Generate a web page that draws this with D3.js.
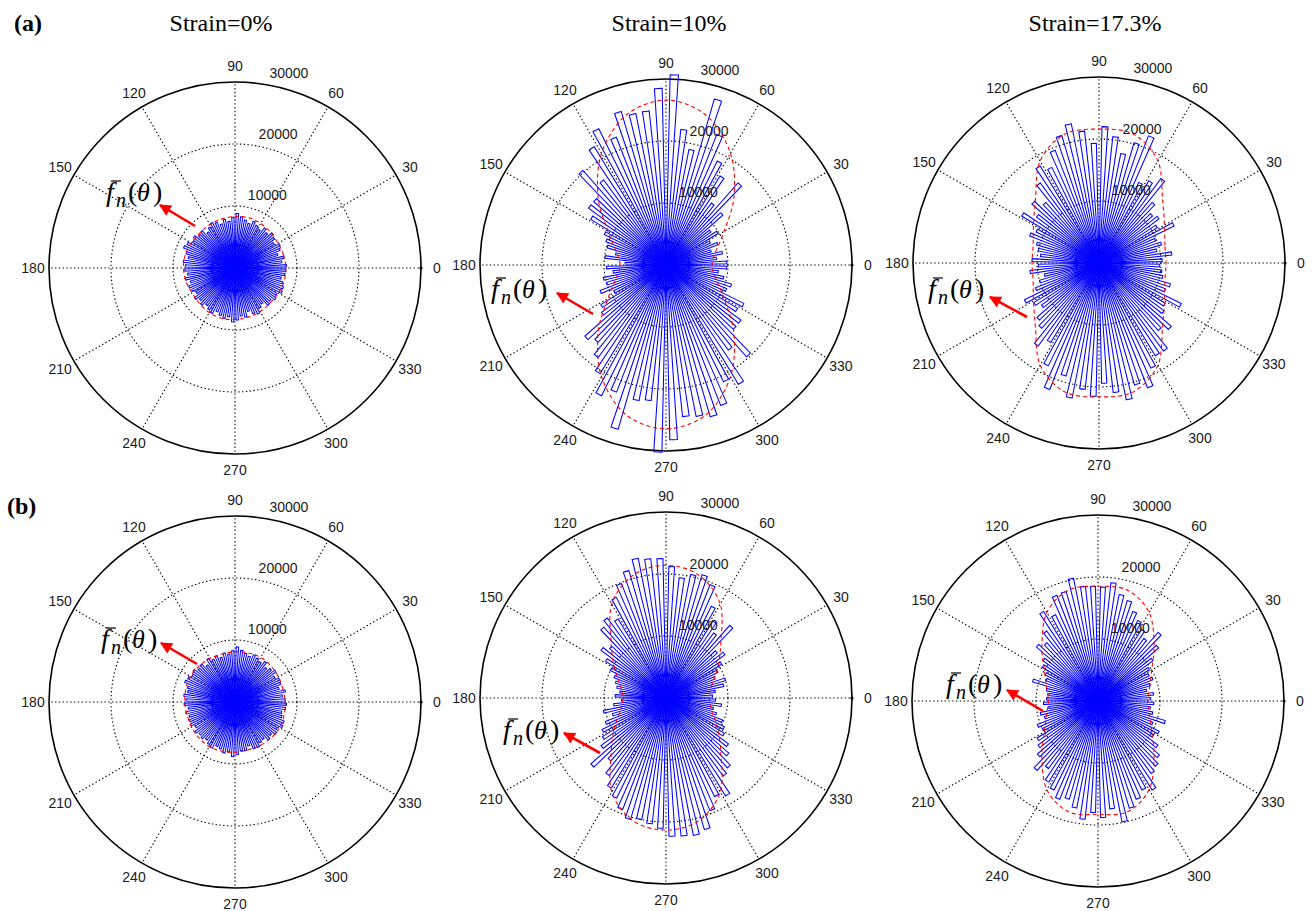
<!DOCTYPE html>
<html>
<head>
<meta charset="utf-8">
<script src="https://d3js.org/d3.v7.min.js"></script>
<style>
  body { margin: 0; background: #fff; }
  .sans { font-family: "Liberation Sans", Arial, sans-serif; }
  .serif { font-family: "Liberation Serif", "Times New Roman", serif; }
</style>
</head>
<body>
<svg width="1313" height="911"></svg>
<script>
// bin centres of the rose (deg), 5 deg bins
const binAngles = d3.range(2.5, 360, 5);
// angles where the fitted curve f_n(theta) was read (deg)
const fitAngles = d3.range(0, 360, 15);

const ringTicks = [10000, 20000, 30000];
const spokeAngles = [0, 30, 60, 90, 120, 150, 180, 210, 240, 270, 300, 330];
const titles = ['Strain=0%', 'Strain=10%', 'Strain=17.3%'];
const rowLabels = ['(a)', '(b)'];

// ---- (a) contact counts per bin ----
const barsA0 = [
  8300, 7600, 8000, 7200, 7800, 8100, 7400, 7900, 8200,
  7600, 8000, 7300, 7700, 8100, 7500, 7900, 8300, 8800,
  8200, 7600, 8000, 7400, 7900, 8200, 7700, 7200, 8000,
  7800, 8300, 8000, 8600, 8900, 8200, 7700, 8400, 8000,
  8100, 7700, 8200, 7500, 8000, 7800, 7400, 8100, 7600,
  8000, 7500, 7900, 8200, 7600, 8000, 8300, 7900, 8700,
  8400, 7800, 8100, 7300, 7900, 8300, 7600, 7200, 8000,
  7700, 8200, 7900, 8500, 8400, 8000, 7600, 8100, 8200
];
const barsA10 = [
  9800, 8200, 9300, 7600, 9000, 8000, 9800, 9000, 12200,
  17600, 12400, 16800, 18700, 22600, 27900, 19000, 22000, 30700,
  28500, 25000, 24900, 25800, 22100, 24500, 22300, 17000, 20300,
  15500, 15500, 14200, 11100, 10400, 9900, 8300, 9900, 6600,
  9600, 8600, 10300, 10000, 11400, 9400, 12300, 12900, 17400,
  16600, 18500, 20500, 23500, 22000, 27600, 22300, 22000, 30200,
  28200, 24600, 24900, 25500, 24300, 21000, 22500, 17000, 19700,
  15000, 15000, 13500, 14000, 10500, 11000, 9500, 8500, 9800
];
const barsA17 = [
  10200, 11800, 9500, 10500, 9800, 13500, 11000, 12000, 11500,
  13000, 16900, 15500, 14500, 22000, 20200, 18000, 20500, 22000,
  19300, 21400, 22900, 21400, 19500, 17200, 18300, 16000, 13000,
  14400, 12500, 14600, 11300, 12000, 10500, 10000, 9500, 10800,
  9800, 11200, 9000, 10000, 11000, 13400, 12300, 11500, 13300,
  14000, 16600, 15000, 18500, 21900, 19000, 22200, 20500, 21500,
  19400, 21000, 22500, 20500, 21600, 18900, 17500, 17600, 14500,
  15500, 13000, 12500, 14800, 11500, 12000, 10500, 10200, 9800
];
// ---- (b) contact counts per bin ----
const barsB0 = [
  8100, 7700, 8300, 7400, 7900, 8000, 7500, 8200, 7800,
  7400, 8100, 7600, 7900, 8200, 7700, 8000, 8400, 8900,
  8300, 7800, 8100, 7500, 8000, 7700, 8200, 7400, 8100,
  7900, 8400, 8100, 8500, 8700, 8000, 7800, 8300, 7900,
  8200, 7600, 8100, 7700, 7900, 8000, 7500, 8000, 7700,
  7900, 7600, 8000, 8300, 7700, 7900, 8400, 8100, 8800,
  8500, 7900, 8000, 7400, 8100, 8200, 7700, 7500, 8100,
  7800, 8300, 8000, 8600, 8500, 7900, 7700, 8200, 8300
];
const barsB10 = [
  7500, 8000, 9500, 10000, 8500, 9300, 10500, 11800, 11000,
  15600, 13000, 14500, 16500, 19600, 20700, 20300, 19500, 21200,
  22500, 22600, 23000, 21400, 19800, 18100, 14900, 16000, 15200,
  12100, 13000, 11400, 10000, 9000, 8500, 8100, 7500, 8200,
  7200, 8500, 10300, 9000, 10500, 11500, 12000, 13000, 16100,
  13500, 15500, 17000, 18000, 19300, 20400, 20000, 20400, 21000,
  22300, 22400, 22600, 22100, 19500, 17700, 18500, 15600, 15000,
  13500, 12500, 11000, 10500, 9800, 8500, 7800, 9000, 8000
];
const barsB17 = [
  8500, 9000, 8000, 8800, 9500, 9200, 9700, 11000, 13000,
  14700, 12500, 13500, 14500, 15500, 16900, 17500, 19200, 18400,
  18500, 18600, 20200, 18400, 18300, 15500, 16900, 14000, 12500,
  13200, 11000, 10500, 9500, 9000, 11000, 8500, 8000, 8300,
  8800, 8000, 9500, 9000, 10500, 10000, 11500, 12000, 13000,
  14900, 13500, 15300, 16000, 17000, 16500, 17600, 19200, 18000,
  18800, 17500, 19900, 18000, 17000, 16000, 16800, 14500, 14000,
  13200, 12000, 10500, 11000, 9500, 11300, 9000, 8500, 9000
];

// ---- fitted distribution f_n(theta), read every 15 deg ----
const fitA0 = [8200, 8100, 8000, 8100, 8300, 8400, 8300, 8200, 8100, 8000, 8100, 8300,
               8300, 8200, 8000, 8100, 8300, 8400, 8300, 8200, 8100, 8000, 8100, 8200];
const fitA10 = [7400, 8300, 10800, 15500, 20800, 25000, 26600, 25000, 20800, 15500, 10800, 8300,
                7400, 8300, 10800, 15500, 20800, 25000, 26400, 25000, 20800, 15500, 10800, 8300];
const fitA17 = [10800, 11000, 12200, 14500, 19000, 21500, 21600, 21500, 19000, 14500, 12200, 11000,
                10800, 11000, 12200, 14500, 19000, 21500, 21600, 21500, 19000, 14500, 12200, 11000];
const fitB0 = [8100, 8000, 8100, 8200, 8300, 8200, 8100, 8000, 8100, 8200, 8300, 8200,
               8100, 8000, 8100, 8200, 8300, 8200, 8100, 8000, 8100, 8200, 8300, 8200];
const fitB10 = [7000, 7600, 9600, 12500, 17500, 20500, 21400, 20500, 17500, 12500, 9600, 7600,
                7000, 7600, 9600, 12500, 17500, 20500, 21300, 20500, 17500, 12500, 9600, 7600];
const fitB17 = [8000, 8600, 10000, 12800, 16500, 18500, 18500, 18500, 16500, 12800, 10000, 8600,
                8000, 8600, 10000, 12800, 16500, 18500, 18300, 18500, 16500, 12800, 10000, 8600];

// layout of the six panels
const panels = [
  {bars: barsA0,  fit: fitA0,  cx: 235,  cy: 268, title: 0, tx: 221,  lab: [105, 201], arr: [195, 226, 160, 205]},
  {bars: barsA10, fit: fitA10, cx: 666,  cy: 265, title: 1, tx: 669,  lab: [490, 298], arr: [593, 314, 557, 293]},
  {bars: barsA17, fit: fitA17, cx: 1099, cy: 263, title: 2, tx: 1095, lab: [927, 298], arr: [1027, 317, 990, 297]},
  {bars: barsB0,  fit: fitB0,  cx: 235,  cy: 702, lab: [100, 648], arr: [197, 664, 161, 643]},
  {bars: barsB10, fit: fitB10, cx: 666,  cy: 698, lab: [502, 739], arr: [600, 753, 564, 733]},
  {bars: barsB17, fit: fitB17, cx: 1098, cy: 701, lab: [945, 693], arr: [1043, 711, 1007, 690]}
];

const svg = d3.select('svg');
const R = 186;
const rScale = d3.scaleLinear().domain([0, 30000]).range([0, R]);
const rad = d => d * Math.PI / 180;
const halfW = 1.25; // half angular width of a bar, deg
const dots = '1.4,2.4';

const arc = d3.arc().innerRadius(0);
const fitLine = d3.lineRadial()
  .angle(d => rad(90 - d.a))
  .radius(d => rScale(d.v))
  .curve(d3.curveCardinalClosed);

svg.append('defs').append('marker')
  .attr('id', 'head')
  .attr('viewBox', '0 0 10 10')
  .attr('refX', 9).attr('refY', 5)
  .attr('markerWidth', 5.2).attr('markerHeight', 4.6)
  .attr('markerUnits', 'strokeWidth')
  .attr('orient', 'auto')
  .append('path').attr('d', 'M0,0 L10,5 L0,10 z').attr('fill', 'red');

panels.forEach(p => {
  const g = svg.append('g').attr('transform', `translate(${p.cx},${p.cy})`);

  // spokes
  g.selectAll('line.spoke').data(spokeAngles).enter().append('line')
    .attr('x1', 0).attr('y1', 0)
    .attr('x2', d => R * Math.cos(rad(d)))
    .attr('y2', d => -R * Math.sin(rad(d)))
    .attr('stroke', '#000').attr('stroke-width', 1.1)
    .attr('stroke-dasharray', dots);

  // rings
  g.selectAll('circle.ring').data(ringTicks).enter().append('circle')
    .attr('r', d => rScale(d))
    .attr('fill', 'none')
    .attr('stroke', '#000')
    .attr('stroke-width', d => d === 30000 ? 1.6 : 1.1)
    .attr('stroke-dasharray', d => d === 30000 ? null : dots);

  g.append('circle').attr('cx', R).attr('cy', 0).attr('r', 1.6).attr('fill', '#000');

  // bars
  g.selectAll('path.bar').data(p.bars).enter().append('path')
    .attr('d', (v, i) => arc.outerRadius(rScale(v))
      .startAngle(rad(90 - binAngles[i] - halfW))
      .endAngle(rad(90 - binAngles[i] + halfW))())
    .attr('fill', 'none')
    .attr('stroke', '#0000ff')
    .attr('stroke-width', 1.05);

  // fitted curve
  g.append('path')
    .datum(fitAngles.map((a, i) => ({a, v: p.fit[i]})))
    .attr('d', fitLine)
    .attr('fill', 'none')
    .attr('stroke', '#ff0000')
    .attr('stroke-width', 1.1)
    .attr('stroke-dasharray', '4,3');

  // angle labels
  g.selectAll('text.ang').data(spokeAngles).enter().append('text')
    .attr('class', 'sans')
    .attr('x', d => (R + 16) * Math.cos(rad(d)))
    .attr('y', d => -(R + 16) * Math.sin(rad(d)))
    .attr('text-anchor', 'middle')
    .attr('dominant-baseline', 'central')
    .attr('font-size', 14)
    .attr('fill', '#1a1a1a')
    .text(d => d);

  // radial labels
  g.selectAll('text.rt').data(ringTicks).enter().append('text')
    .attr('class', 'sans')
    .attr('x', d => (rScale(d) + 12) * Math.cos(rad(80)))
    .attr('y', d => -(rScale(d) + 12) * Math.sin(rad(80)))
    .attr('dominant-baseline', 'central')
    .attr('font-size', 14)
    .attr('fill', '#1a1a1a')
    .text(d => d);

  // f_n(theta) annotation
  const [lx, ly] = p.lab;
  const lab = svg.append('g').attr('transform', `translate(${lx},${ly})`);
  lab.append('text').attr('class', 'serif').attr('x', 1).attr('y', 0).attr('font-size', 28)
    .attr('font-style', 'italic').text('f');
  lab.append('line').attr('x1', 6).attr('x2', 16).attr('y1', -20).attr('y2', -20)
    .attr('stroke', '#000').attr('stroke-width', 1.2);
  lab.append('text').attr('class', 'serif').attr('x', 11).attr('y', 6).attr('font-size', 20)
    .attr('font-style', 'italic').text('n');
  lab.append('text').attr('class', 'serif').attr('x', 23).attr('y', 0).attr('font-size', 28).text('(');
  lab.append('text').attr('class', 'serif').attr('x', 32).attr('y', 0).attr('font-size', 26)
    .attr('font-style', 'italic').text('θ');
  lab.append('text').attr('class', 'serif').attr('x', 48).attr('y', 0).attr('font-size', 28).text(')');

  const [x1, y1, x2, y2] = p.arr;
  svg.append('line')
    .attr('x1', x1).attr('y1', y1).attr('x2', x2).attr('y2', y2)
    .attr('stroke', 'red').attr('stroke-width', 2.6)
    .attr('marker-end', 'url(#head)');

  if (p.title !== undefined) {
    svg.append('text')
      .attr('class', 'serif')
      .attr('x', p.tx).attr('y', 31)
      .attr('text-anchor', 'middle')
      .attr('font-size', 24)
      .text(titles[p.title]);
  }
});

svg.selectAll('text.row').data(rowLabels).enter().append('text')
  .attr('class', 'serif')
  .attr('x', (d, i) => i === 0 ? 14 : 7)
  .attr('y', (d, i) => i === 0 ? 31 : 514)
  .attr('font-size', 24)
  .attr('font-weight', 'bold')
  .text(d => d);
</script>
</body>
</html>
